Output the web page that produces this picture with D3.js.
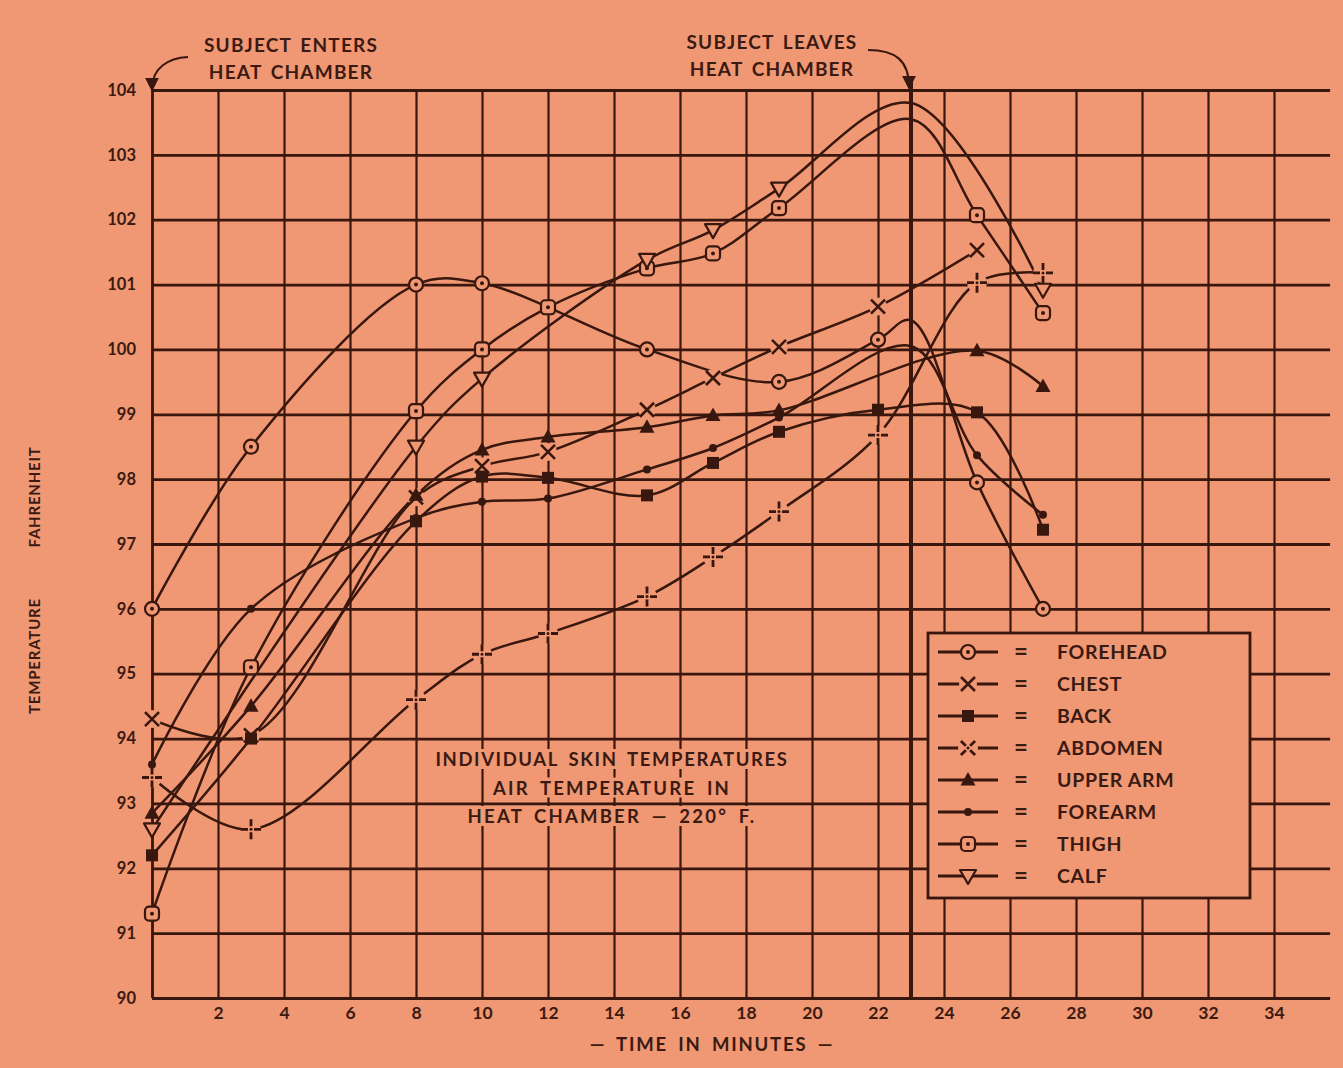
<!DOCTYPE html>
<html>
<head>
<meta charset="utf-8">
<script src="https://cdn.jsdelivr.net/npm/d3@7"></script>
<style>
html, body { margin: 0; padding: 0; background: #f09773; }
svg { display: block; }
text { font-family: "Lato", "DejaVu Sans", sans-serif; font-weight: 700; fill: #3a1a12; }
</style>
</head>
<body>
<div id="chart"></div>
<script>
// readings, minutes after entering the chamber
var minutes = [0, 3, 8, 10, 12, 15, 17, 19, 22, 23, 25, 27];
var leaveMinute = 23; // subject leaves here, reading not marked

var forehead = [96.0, 98.5, 101.0, 101.02, null, 100.0, null, 99.5, 100.15, 100.45, 97.95, 96.0];
var chest    = [94.3, 94.05, 97.72, 98.2, 98.42, 99.07, 99.56, 100.04, 100.66, null, 101.53, null];
var back     = [92.2, 94.0, 97.35, 98.04, 98.02, 97.75, 98.25, 98.73, 99.07, null, 99.03, 97.22];
var abdomen  = [93.4, 92.6, 94.6, 95.3, 95.62, 96.19, 96.8, 97.5, 98.68, null, 101.03, 101.18];
var upperArm = [92.85, 94.5, 97.75, 98.45, 98.65, 98.8, 98.98, 99.06, null, null, 99.98, 99.43];
var forearm  = [93.6, 96.0, 97.4, 97.65, 97.7, 98.15, 98.48, 98.95, null, 100.05, 98.37, 97.45];
var thigh    = [91.3, 95.1, 99.05, 100.0, 100.65, 101.25, 101.48, 102.18, null, 103.55, 102.07, 100.56];
var calf     = [92.6, null, 98.5, 99.55, null, 101.38, 101.84, 102.48, null, 103.8, null, 100.92];

var seriesNames = ["FOREHEAD", "CHEST", "BACK", "ABDOMEN", "UPPER ARM", "FOREARM", "THIGH", "CALF"];
var seriesValues = [forehead, chest, back, abdomen, upperArm, forearm, thigh, calf];
var seriesMarks = ["dotCircle", "cross", "square", "dashCross", "triangle", "dot", "dotSquare", "triangleDown"];

var yTicks = d3.range(90, 105, 1);
var xTicks = d3.range(0, 35, 2);

var width = 1343, height = 1068;
var bg = "#f09773", ink = "#38170f";

var svg = d3.select("#chart").append("svg")
  .attr("width", width)
  .attr("height", height);

svg.append("rect").attr("width", width).attr("height", height).attr("fill", bg);

var x = d3.scaleLinear().domain([0, 34]).range([152, 1274]);
var y = d3.scaleLinear().domain([90, 104]).range([998, 90]);
var gridRight = x(35.7);

// horizontal grid + y labels
var yAxis = d3.axisLeft(y)
  .tickValues(yTicks)
  .tickSize(-(gridRight - x(0)))
  .tickPadding(16);
var gy = svg.append("g").attr("transform", "translate(" + x(0) + ",0)").call(yAxis);
gy.select(".domain").remove();
gy.selectAll("line").attr("stroke", ink).attr("stroke-width", 2.8);
gy.selectAll("text").style("font-size", "16.5px").attr("fill", ink);

// vertical grid + x labels
var xAxis = d3.axisBottom(x)
  .tickValues(xTicks)
  .tickSize(y(90) - y(104))
  .tickPadding(9)
  .tickFormat(function(d) { return d === 0 ? "" : d; });
var gx = svg.append("g").attr("transform", "translate(0," + y(104) + ")").call(xAxis);
gx.select(".domain").remove();
gx.selectAll("line").attr("stroke", ink).attr("stroke-width", function(d) { return d === 0 ? 2.8 : 2.2; });
gx.selectAll("text").style("font-size", "17.5px").attr("fill", ink);

// the "leaves chamber" line
svg.append("line")
  .attr("x1", x(leaveMinute)).attr("x2", x(leaveMinute))
  .attr("y1", y(104) - 8).attr("y2", y(90))
  .attr("stroke", ink).attr("stroke-width", 4);

// text block in the middle, with paper behind it
var note = svg.append("g");
var noteLines = ["INDIVIDUAL SKIN TEMPERATURES", "AIR TEMPERATURE IN", "HEAT CHAMBER \u2014 220\u00b0 F."];
noteLines.forEach(function(s, i) {
  var t = note.append("text")
    .attr("x", 612).attr("y", 766 + i * 28.5)
    .attr("text-anchor", "middle")
    .style("font-size", "18.5px")
    .style("letter-spacing", i === 0 ? "1.6px" : "2.2px")
    .style("word-spacing", "4px")
    .text(s);
  var b = t.node().getBBox();
  note.insert("rect", "text")
    .attr("x", b.x - 4).attr("y", b.y + 1)
    .attr("width", b.width + 8).attr("height", b.height - 2)
    .attr("fill", bg);
});

function markerAt(g, type, cx, cy, legend) {
  var m = g.append("g").attr("transform", "translate(" + cx + "," + cy + ")");
  if (type === "dotCircle") {
    m.append("circle").attr("r", 7).attr("fill", bg).attr("stroke", ink).attr("stroke-width", 2.2);
    m.append("circle").attr("r", 2).attr("fill", ink);
  } else if (type === "cross") {
    m.append("circle").attr("r", 9).attr("fill", bg);
    m.append("path").attr("d", "M-7,-7L7,7M-7,7L7,-7").attr("stroke", ink).attr("stroke-width", 2.6);
  } else if (type === "square") {
    m.append("rect").attr("x", -6).attr("y", -6).attr("width", 12).attr("height", 12).attr("fill", ink);
  } else if (type === "dashCross") {
    m.append("circle").attr("r", 10).attr("fill", bg);
    var p = "M3,0L10,0M-3,0L-10,0M0,3L0,10M0,-3L0,-10";
    m.append("path").attr("d", p).attr("stroke", ink).attr("stroke-width", 2.8)
      .attr("transform", legend ? "rotate(45)" : null);
    m.append("circle").attr("r", 1.5).attr("fill", ink);
  } else if (type === "triangle") {
    m.append("path").attr("d", "M0,-8L7.5,5.5L-7.5,5.5Z").attr("fill", ink);
  } else if (type === "dot") {
    m.append("circle").attr("r", 4).attr("fill", ink);
  } else if (type === "dotSquare") {
    m.append("rect").attr("x", -7).attr("y", -7).attr("width", 14).attr("height", 14).attr("rx", 4)
      .attr("fill", bg).attr("stroke", ink).attr("stroke-width", 2.2);
    m.append("circle").attr("r", 2).attr("fill", ink);
  } else if (type === "triangleDown") {
    m.append("path").attr("d", "M-8,-6L8,-6L0,8Z").attr("fill", bg).attr("stroke", ink)
      .attr("stroke-width", 2.2).attr("stroke-linejoin", "round");
  }
}

var line = d3.line()
  .x(function(d) { return x(d.t); })
  .y(function(d) { return y(d.v); })
  .curve(d3.curveCatmullRom.alpha(0.5));

var plot = svg.append("g");
var series = seriesNames.map(function(name, i) {
  var pts = minutes.map(function(t, j) { return { t: t, v: seriesValues[i][j] }; })
    .filter(function(d) { return d.v != null; });
  return { name: name, mark: seriesMarks[i], pts: pts };
});

series.forEach(function(s) {
  plot.append("path")
    .attr("d", line(s.pts))
    .attr("fill", "none")
    .attr("stroke", ink)
    .attr("stroke-width", 2.5);
});
series.forEach(function(s) {
  s.pts.forEach(function(d) {
    if (d.t === leaveMinute) return;
    markerAt(plot, s.mark, x(d.t), y(d.v), false);
  });
});

// legend
var lg = svg.append("g");
lg.append("rect")
  .attr("x", 928).attr("y", 633).attr("width", 322).attr("height", 265)
  .attr("fill", bg).attr("stroke", ink).attr("stroke-width", 2.8);
var rowY = d3.scalePoint().domain(seriesNames).range([652, 876]);
series.forEach(function(s) {
  var ly = rowY(s.name);
  lg.append("line").attr("x1", 938).attr("x2", 998).attr("y1", ly).attr("y2", ly)
    .attr("stroke", ink).attr("stroke-width", 2.8);
  markerAt(lg, s.mark, 968, ly, true);
  lg.append("text").attr("x", 1021).attr("y", ly + 8).attr("text-anchor", "middle")
    .style("font-size", "24px").text("=");
  lg.append("text").attr("x", 1057).attr("y", ly + 7)
    .style("font-size", "19.5px").style("letter-spacing", "0.7px").text(s.name);
});

// annotations at top
function twoLines(cx, y0, a, b) {
  [a, b].forEach(function(s, i) {
    svg.append("text").attr("x", cx).attr("y", y0 + i * 27)
      .attr("text-anchor", "middle")
      .style("font-size", "19px").style("letter-spacing", "1.2px")
      .style("word-spacing", "3px")
      .text(s);
  });
}
twoLines(291, 52, "SUBJECT ENTERS", "HEAT CHAMBER");
twoLines(772, 49, "SUBJECT LEAVES", "HEAT CHAMBER");

svg.append("defs").append("marker")
  .attr("id", "head").attr("viewBox", "0 0 10 10")
  .attr("refX", 8).attr("refY", 5)
  .attr("markerWidth", 7).attr("markerHeight", 7)
  .attr("orient", "auto")
  .append("path").attr("d", "M0,0L10,5L0,10Z").attr("fill", ink);

svg.append("path")
  .attr("d", "M188,57 C168,58 152,68 152," + (y(104) - 1))
  .attr("fill", "none").attr("stroke", ink).attr("stroke-width", 2)
  .attr("marker-end", "url(#head)");
svg.append("path")
  .attr("d", "M868,50 C895,50 909,60 909," + (y(104) - 3))
  .attr("fill", "none").attr("stroke", ink).attr("stroke-width", 2)
  .attr("marker-end", "url(#head)");

// axis titles
svg.append("text")
  .attr("transform", "translate(40,656) rotate(-90)")
  .attr("text-anchor", "middle")
  .style("font-size", "15px").style("letter-spacing", "0.8px")
  .text("TEMPERATURE");
svg.append("text")
  .attr("transform", "translate(40,497) rotate(-90)")
  .attr("text-anchor", "middle")
  .style("font-size", "15px").style("letter-spacing", "0.8px")
  .text("FAHRENHEIT");
svg.append("text")
  .attr("x", 712).attr("y", 1051)
  .attr("text-anchor", "middle")
  .style("font-size", "18.5px").style("letter-spacing", "1.8px")
  .style("word-spacing", "4px")
  .text("\u2014 TIME IN MINUTES \u2014");
</script>
</body>
</html>
